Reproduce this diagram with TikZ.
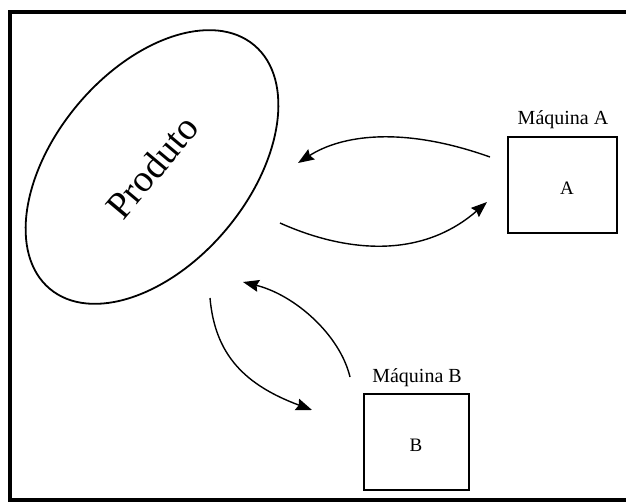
\documentclass[tikz,border=0pt]{standalone}
\usepackage{fontspec}
\setmainfont{Liberation Serif}
\usetikzlibrary{shapes.geometric,arrows.meta}
\begin{document}
\begin{tikzpicture}[x=1pt,y=-1pt,
  machbox/.style={draw, line width=1.4pt, minimum width=#1, minimum height=96pt, inner sep=0pt},
  lbl/.style={font=\fontsize{20}{22}\selectfont, inner sep=0pt},
  boxletter/.style={font=\fontsize{19}{20}\selectfont, inner sep=0pt},
  flow/.style={line width=1.4pt, -{Stealth[length=16pt,width=12pt,inset=2pt]}}]
\useasboundingbox (0,0) rectangle (626,502);
\draw[line width=3.5pt] (10,12) rectangle (650,500);
% product ellipse
\node[draw, ellipse, line width=1.8pt, minimum width=318pt, minimum height=194pt,
      inner sep=0pt, rotate=50, font=\fontsize{38}{40}\selectfont] (prod) at (152,167) {Produto};
% machines
\node[machbox=109pt] (ma) at (562.5,185) {};
\node[boxletter] (ta) at (567,188) {A};
\node[lbl] (la) at (563,120) {Máquina A};
\node[machbox=105pt] (mb) at (416.5,442) {};
\node[boxletter] (tb) at (416,445) {B};
\node[lbl] (lb) at (417,378) {Máquina B};
% connector ends
\coordinate (a1s) at (490,157); \coordinate (a1e) at (298,163);
\coordinate (a2s) at (280,223); \coordinate (a2e) at (487,202);
\coordinate (b1s) at (350,377); \coordinate (b1e) at (243,282);
\coordinate (b2s) at (210,298); \coordinate (b2e) at (312,410);
\draw[flow] (a1s) .. controls (400,125) and (340,136) .. (a1e);
\draw[flow] (a2s) .. controls (340,250) and (418,262) .. (a2e);
\draw[flow] (b1s) .. controls (340,335) and (295,295) .. (b1e);
\draw[flow] (b2s) .. controls (215,355) and (245,385) .. (b2e);
\end{tikzpicture}
\end{document}
